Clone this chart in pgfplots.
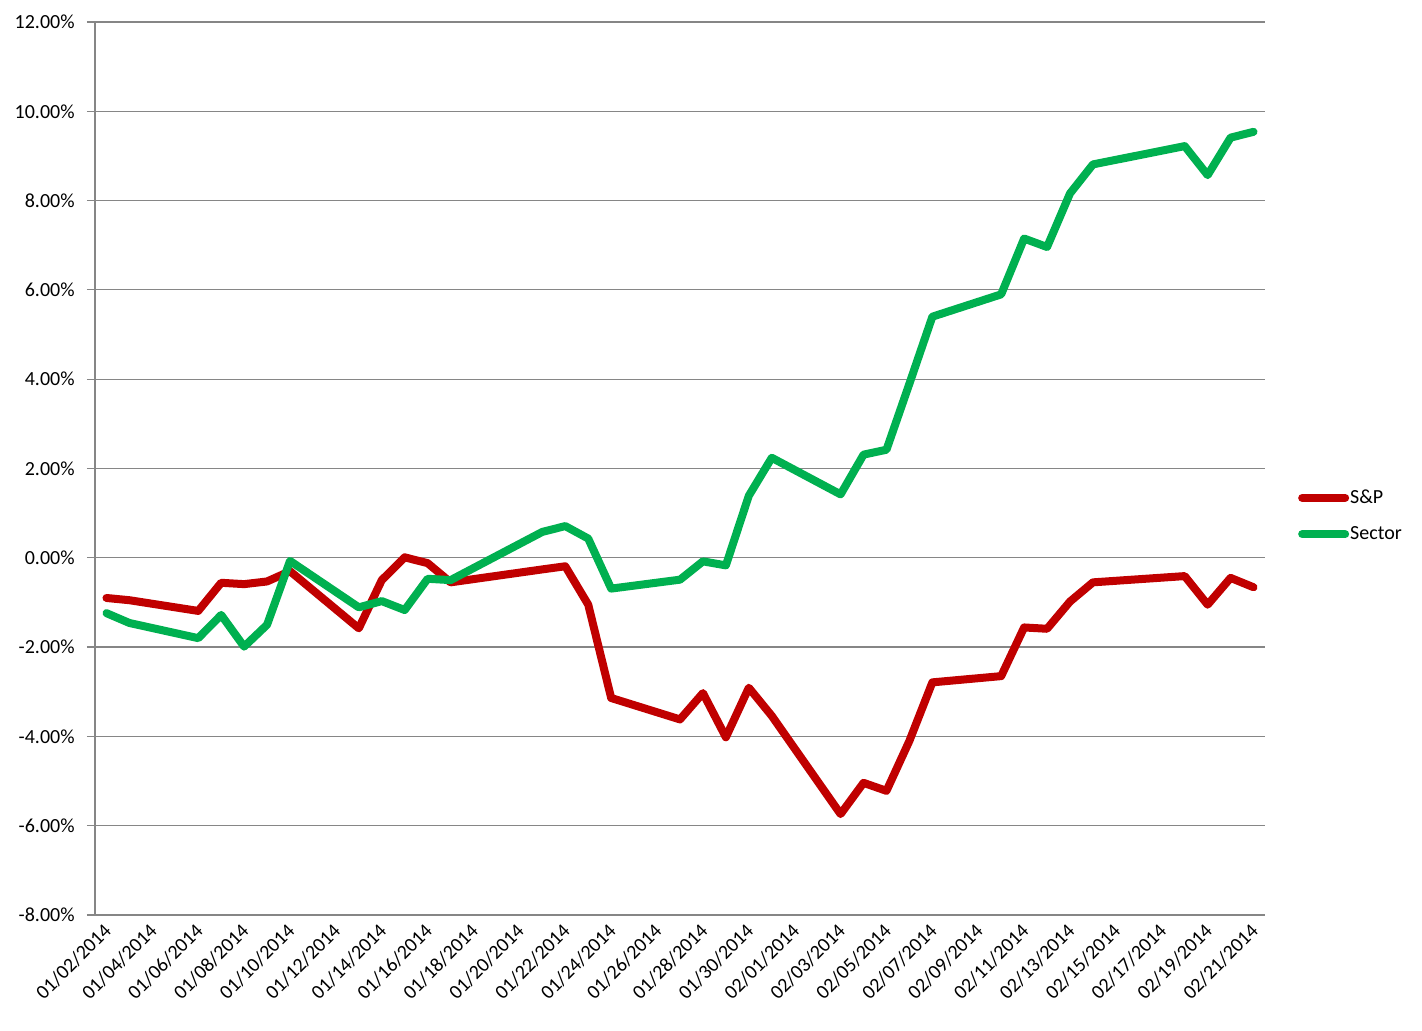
\documentclass[border=0pt]{standalone}
\usepackage{fontspec}
\setmainfont{Carlito}
\usepackage{pgfplots}
\pgfplotsset{compat=1.18}
\usepackage{pgfplotstable}
\definecolor{spred}{HTML}{C00000}
\definecolor{secgreen}{HTML}{00B050}
\definecolor{gridgray}{HTML}{868686}

\pgfplotstableread{
d v
0 -0.90
1 -0.95
4 -1.19
5 -0.56
6 -0.59
7 -0.53
8 -0.30
11 -1.58
12 -0.50
13 0.01
14 -0.12
15 -0.55
19 -0.26
20 -0.19
21 -1.05
22 -3.14
25 -3.62
26 -3.03
27 -4.02
28 -2.91
29 -3.54
32 -5.74
33 -5.04
34 -5.22
35 -4.10
36 -2.79
39 -2.65
40 -1.56
41 -1.59
42 -0.98
43 -0.55
47 -0.41
48 -1.05
49 -0.45
50 -0.66
}\sp

\pgfplotstableread{
d v
0 -1.24
1 -1.46
4 -1.80
5 -1.28
6 -1.99
7 -1.50
8 -0.07
11 -1.11
12 -0.97
13 -1.17
14 -0.47
15 -0.50
19 0.58
20 0.71
21 0.43
22 -0.69
25 -0.49
26 -0.08
27 -0.17
28 1.39
29 2.24
32 1.42
33 2.31
34 2.42
35 3.90
36 5.40
39 5.90
40 7.15
41 6.96
42 8.16
43 8.81
47 9.22
48 8.57
49 9.41
50 9.54
}\sector

\begin{document}
\begin{tikzpicture}
\useasboundingbox (-47.5pt,-58pt) rectangle (663.5pt,457.5pt);
\begin{axis}[
  at={(0,0)}, anchor=south west,
  scale only axis, width=585pt, height=446.5pt,
  xmin=-0.5, xmax=50.5, ymin=-8, ymax=12,
  axis lines*=left,
  axis line style={draw=gridgray, line width=0.6pt},
  tick align=outside,
  major tick length=4pt, minor tick length=4pt,
  tick style={draw=gridgray, line width=0.6pt},
  xtick={0,2,...,50},
  xtick style={draw=none},
  minor xtick={-0.5,1.5,...,50.5},
  xticklabels={01/02/2014,01/04/2014,01/06/2014,01/08/2014,01/10/2014,01/12/2014,01/14/2014,01/16/2014,01/18/2014,01/20/2014,01/22/2014,01/24/2014,01/26/2014,01/28/2014,01/30/2014,02/01/2014,02/03/2014,02/05/2014,02/07/2014,02/09/2014,02/11/2014,02/13/2014,02/15/2014,02/17/2014,02/19/2014,02/21/2014},
  xticklabel style={rotate=45, anchor=east, font=\fontsize{10pt}{12pt}\selectfont, inner sep=1pt, yshift=-2pt},
  ytick={-8,-6,...,12},
  yticklabels={-8.00\%,-6.00\%,-4.00\%,-2.00\%,0.00\%,2.00\%,4.00\%,6.00\%,8.00\%,10.00\%,12.00\%},
  yticklabel style={font=\fontsize{10pt}{12pt}\selectfont, inner sep=0pt, xshift=-6pt},
  ymajorgrids,
  grid style={draw=gridgray, line width=0.6pt},
  legend style={at={(1.028,0.447)}, anchor=west, draw=none, fill=none,
    font=\fontsize{10pt}{12pt}\selectfont, inner sep=0pt, row sep=9pt,
    nodes={inner sep=0.5pt}},
  legend cell align=left,
  legend image code/.code={\draw[#1, line cap=round] (0pt,0pt) -- (21.5pt,0pt);},
  clip=false,
]
\addplot[spred, line width=4pt, line join=round, line cap=round] table[x=d, y=v] {\sp};
\addlegendentry{S\&P}
\addplot[secgreen, line width=4pt, line join=round, line cap=round] table[x=d, y=v] {\sector};
\addlegendentry{Sector}
\end{axis}
\end{tikzpicture}
\end{document}
